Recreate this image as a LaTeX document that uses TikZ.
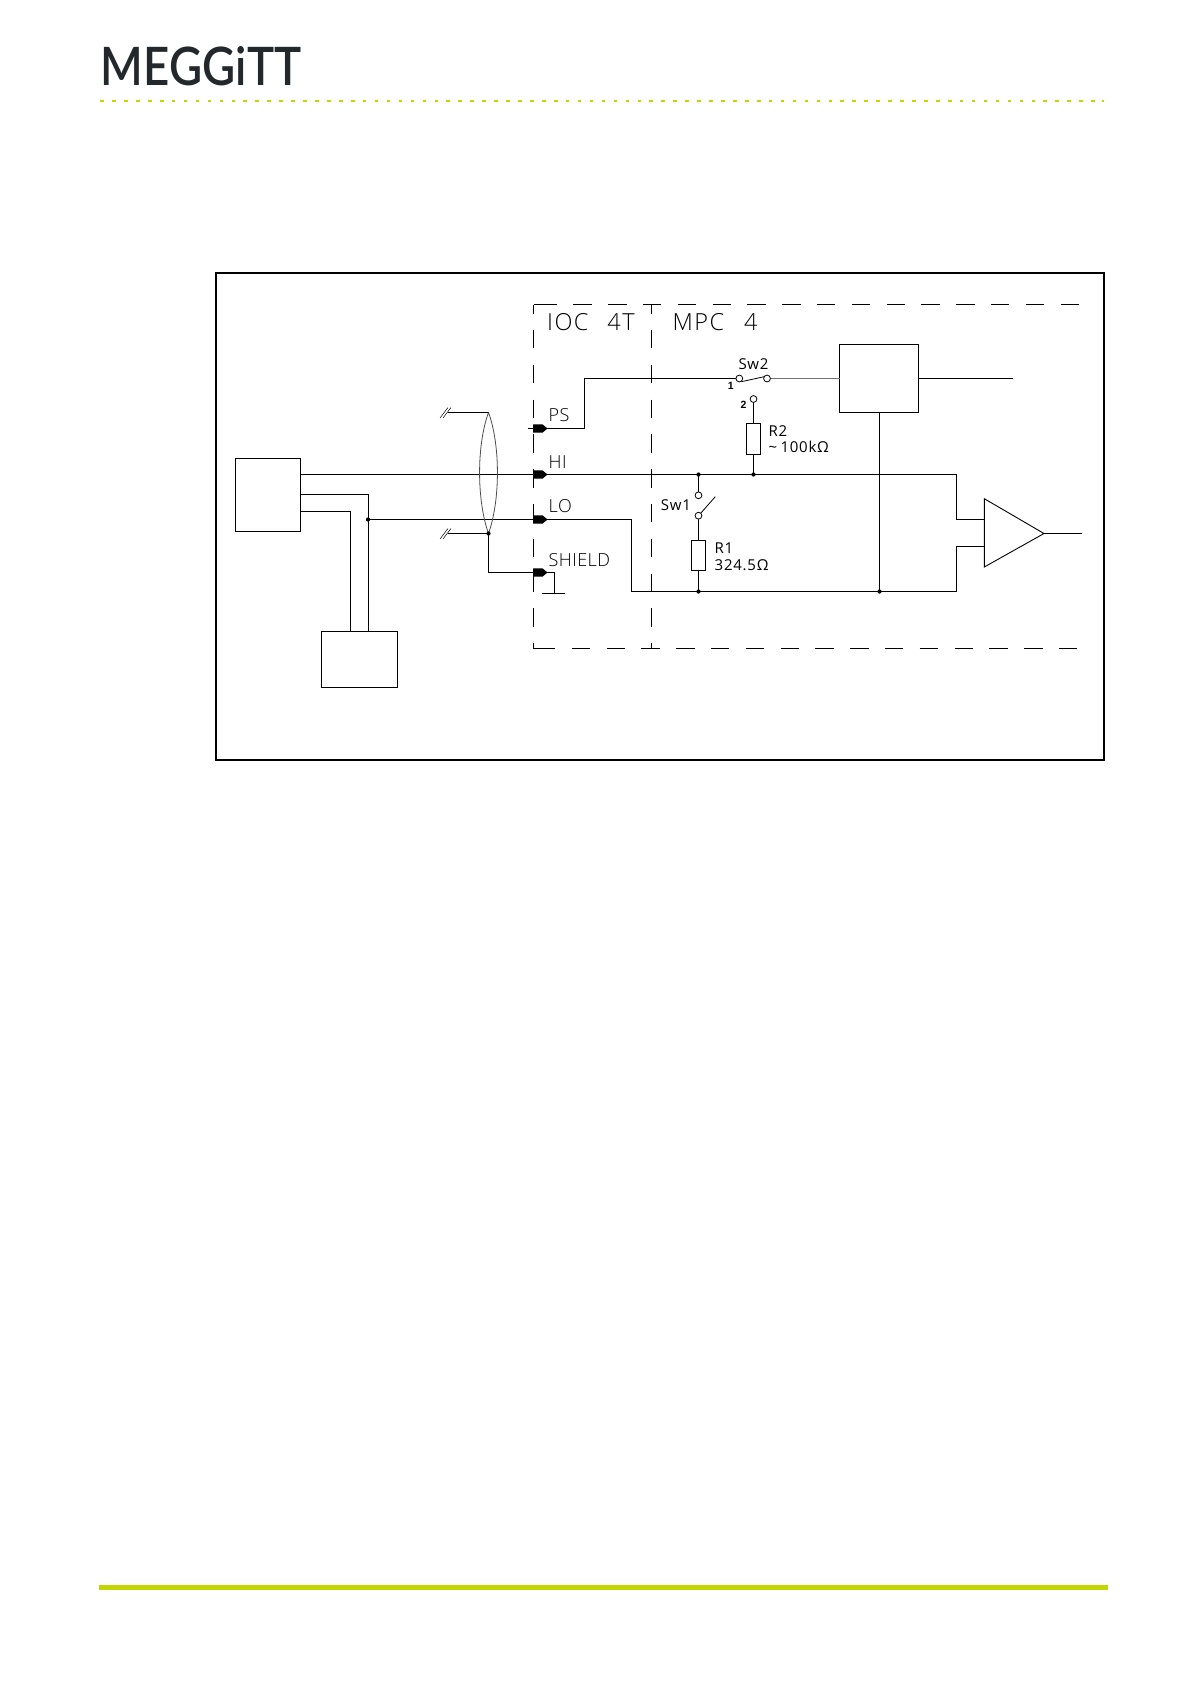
\documentclass[tikz,border=0pt]{standalone}
\usepackage{fontspec}
\setmainfont{Liberation Sans}
\newfontfamily\cadfont[LetterSpace=6]{Open Sans Light}
\newfontfamily\cadmid[LetterSpace=2.5]{Open Sans Light}
\newfontfamily\cadsmall[LetterSpace=5]{Open Sans}
\newfontfamily\logofont[FakeStretch=0.86,LetterSpace=0.5]{Lato Semibold}
\definecolor{meggreen}{HTML}{C4D600}
\definecolor{logoink}{HTML}{23282D}
\tikzset{
  x=1pt,y=-1pt,
  wire/.style={line width=1.2pt,black},
  boxed/.style={draw=black,line width=1.2pt,fill=white,anchor=north west,inner sep=0pt,outer sep=0pt},
  dashbox/.style={line width=1pt,black,dash pattern=on 18.4pt off 16.4pt},
  thin gray/.style={line width=1.2pt,black!55},
  contact/.style={circle,draw=black,line width=0.8pt,fill=white,inner sep=0pt,minimum size=6.8pt},
  junction/.style={circle,fill=black,inner sep=0pt,minimum size=4.2pt},
  pin/.style={fill=black,draw=none},
  big/.style={font=\cadfont\fontsize{23.5}{23.5}\selectfont,anchor=base west,inner sep=0pt},
  mid/.style={font=\cadmid\fontsize{18}{18}\selectfont,anchor=base west,inner sep=0pt},
  small/.style={font=\cadsmall\fontsize{15}{15}\selectfont,anchor=base west,inner sep=0pt},
  tiny/.style={font=\bfseries\fontsize{10.5}{10.5}\selectfont,anchor=base west,inner sep=0pt},
}
\begin{document}
\begin{tikzpicture}
\useasboundingbox (0,0) rectangle (1190,1684);
% header and footer
\node[font=\logofont\fontsize{53}{53}\selectfont,text=logoink,anchor=base west,inner sep=0pt] (logo) at (100,85) {MEGGiTT};
\foreach \i in {0,...,83} {\fill[meggreen] ({102+\i*11.94-1.8},99.5) rectangle ++(3.6,2.6);}
\fill[meggreen] (1102,99.5) rectangle ++(2.4,2.6);
\fill[meggreen] (99,1585) rectangle (1108,1590);
% frame
\draw[line width=2pt,black] (216,273) rectangle (1104,760);
% dashed boxes
\draw[dashbox,dash phase=9.3pt] (533.5,304.5) -- (533.5,648.5);
\draw[dashbox,dash phase=9.3pt] (651.5,304.5) -- (651.5,648.5);
\draw[line width=1pt] (533.5,304.5) -- (538.6,304.5);
\draw[dashbox] (538.6,304.5) -- (1079.3,304.5);
\draw[line width=1pt] (533.5,648.5) -- (536.9,648.5);
\draw[dashbox] (536.9,648.5) -- (1079,648.5);
% boxes
\node[boxed,minimum width=65pt,minimum height=73pt] (sensor) at (235.5,458.5) {};
\node[boxed,minimum width=76pt,minimum height=56pt] (supply) at (321.5,631.5) {};
\node[boxed,minimum width=79pt,minimum height=68pt] (logic) at (839.5,344.5) {};
\node[boxed,minimum width=14pt,minimum height=31pt] (rtwo) at (746.5,423.5) {};
\node[boxed,minimum width=14pt,minimum height=30pt] (rone) at (691.5,540.5) {};
% coordinates
\coordinate (pinPS) at (533,428.5);
\coordinate (pinHI) at (533,474.5);
\coordinate (pinLO) at (533,519.5);
\coordinate (pinSH) at (533,572.5);
\coordinate (jLO) at (368,519.5);
\coordinate (jHItwo) at (753.5,474.5);
\coordinate (jHIone) at (698.5,474.5);
\coordinate (jbot) at (698.5,591.5);
\coordinate (jlogic) at (879.5,591.5);
\coordinate (cA) at (739.3,378.5);
\coordinate (cB) at (767,378.5);
\coordinate (cC) at (753.5,399);
\coordinate (cD) at (698.5,495.3);
\coordinate (cE) at (698.5,515.7);
\coordinate (shT) at (488.5,412.5);
\coordinate (shB) at (488.5,533.5);
\coordinate (ampA) at (984.3,519.5);
\coordinate (ampB) at (984.3,546.5);
% wires
\draw[wire] (527.7,428.5) -- (584.5,428.5) -- (584.5,378.5) -- (cA);
\draw[wire] (sensor.east |- pinHI) -- (956.5,474.5) -- (956.5,519.5) -- (ampA);
\draw[wire] (300.5,494.5) -- (368.5,494.5) -- (368.5,631.5);
\draw[wire] (300.5,511.5) -- (350.5,511.5) -- (350.5,631.5);
\draw[wire] (jLO) -- (631.5,519.5) -- (631.5,591.5) -- (956.5,591.5) -- (956.5,546.5) -- (ampB);
\draw[wire] (logic.east) -- (1013,378.5);
\draw[thin gray] (cB) -- (logic.west);
\draw[wire] (879.5,412.5) -- (jlogic);
\draw[wire] (cC) -- (rtwo.north);
\draw[wire] (rtwo.south) -- (jHItwo);
\draw[wire] (jHIone) -- (cD);
\draw[wire] (cE) -- (rone.north);
\draw[wire] (rone.south) -- (jbot);
\draw[line width=0.8pt] (cE) -- (715.3,496.7);
\draw[line width=0.8pt] (cA) ++(2,3.2) -- (765,376.5);
\draw[wire] (shT) -- (448.3,412.5);
\draw[wire] (shB) -- (448.3,533.5);
\draw[wire] (shB) -- (488.5,572.5) -- (pinSH);
\draw[wire] (546,572.5) -- (554.5,572.5) -- (554.5,593.5);
\draw[wire] (542.3,593.5) -- (565.3,593.5);
% shield lens
\draw[line width=0.8pt,black!70] (shT) .. controls (476.6,445) and (476.6,500) .. (shB) .. controls (500.4,500) and (500.4,445) .. (shT);
% break marks
\foreach \yy in {412.5,533.5} {
  \draw[line width=0.5pt] (440,\yy+5.5) -- (448,\yy-5);
  \draw[line width=0.5pt] (443,\yy+5.5) -- (451,\yy-5);
}
% pins
\foreach \p in {pinPS,pinHI,pinLO,pinSH} {
  \fill[pin] (\p) ++(0,-4.2) -- ++(9.5,0) -- ++(5,4.2) -- ++(-5,4.2) -- ++(-9.5,0) -- cycle;
}
% amplifier
\draw[line width=0.9pt,fill=white] (984.3,498.7) -- (1044,533.5) -- (984.3,567) -- cycle;
\draw[wire] (1044,533.5) -- (1081.7,533.5);
% contacts and junctions
\node[contact] (contactA) at (cA) {};
\node[contact] (contactB) at (cB) {};
\node[contact] (contactC) at (cC) {};
\node[contact] (contactD) at (cD) {};
\node[contact] (contactE) at (cE) {};
\node[junction] (dotA) at (jLO) {};
\node[junction] (dotB) at (jHItwo) {};
\node[junction] (dotC) at (jHIone) {};
\node[junction] (dotD) at (jbot) {};
\node[junction] (dotE) at (jlogic) {};
\node[junction] (dotF) at (shB) {};
% labels
\node[big] (tIOC) at (547,330.7) {IOC\hspace{19pt}4T};
\node[big] (tMPC) at (672.5,330.7) {MPC\hspace{20pt}4};
\node[mid] (tPS) at (548.5,421.7) {PS};
\node[mid] (tHI) at (548.5,468.3) {HI};
\node[mid] (tLO) at (548.5,512.7) {LO};
\node[mid] (tSH) at (548.5,566.7) {SHIELD};
\node[small] (tSwTwo) at (738.3,369) {Sw2};
\node[tiny] (tOne) at (727.7,389) {1};
\node[tiny] (tTwo) at (740.3,408) {2};
\node[small] (tRTwo) at (768.3,436) {R2};
\node[small] (tRTwoV) at (768.3,452.7) {\textasciitilde\hspace{3.5pt}100kΩ};
\node[small] (tSwOne) at (660.7,510) {Sw1};
\node[small] (tROne) at (714.5,553.5) {R1};
\node[small] (tROneV) at (714.5,570.5) {324.5Ω};
\end{tikzpicture}
\end{document}
